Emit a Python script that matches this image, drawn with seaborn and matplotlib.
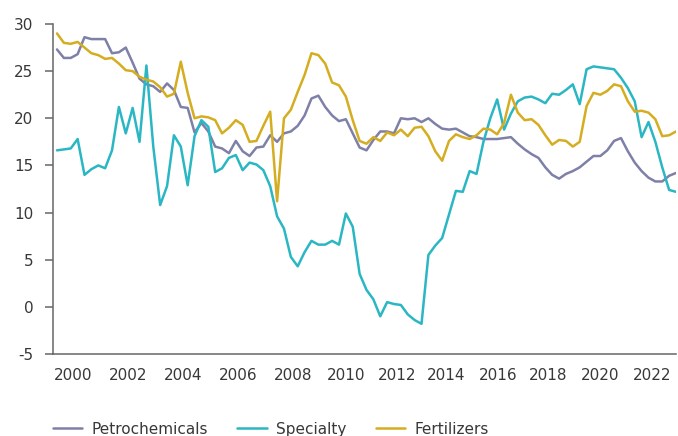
import pandas as pd
import matplotlib
matplotlib.use("Agg")
import matplotlib.pyplot as plt
import seaborn as sns

# Quarterly series (2000Q1 .. 2022Q3)
petrochemicals = [
    27.3, 26.4, 26.4, 26.8, 28.6, 28.4, 28.4, 28.4, 26.9, 27.0,
    27.5, 25.9, 24.2, 23.6, 23.4, 22.8, 23.7, 23.0, 21.2, 21.1,
    18.5, 19.5, 18.6, 17.0, 16.8, 16.3, 17.6, 16.5, 16.0, 16.9,
    17.0, 18.2, 17.5, 18.4, 18.6, 19.2, 20.3, 22.1, 22.4, 21.2,
    20.3, 19.7, 19.9, 18.4, 16.9, 16.6, 17.7, 18.6, 18.6, 18.4,
    20.0, 19.9, 20.0, 19.6, 20.0, 19.4, 18.9, 18.8, 18.9, 18.5,
    18.1, 18.0, 17.8, 17.8, 17.8, 17.9, 18.0, 17.3, 16.7, 16.2,
    15.8, 14.8, 14.0, 13.6, 14.1, 14.4, 14.8, 15.4, 16.0, 16.0,
    16.6, 17.6, 17.9, 16.5, 15.3, 14.4, 13.7, 13.3, 13.3, 13.9,
    14.2,
]
specialty = [
    16.6, 16.7, 16.8, 17.8, 14.0, 14.6, 15.0, 14.7, 16.6, 21.2,
    18.4, 21.1, 17.5, 25.6, 17.0, 10.8, 12.8, 18.2, 17.0, 12.9,
    18.1, 19.8, 19.1, 14.3, 14.7, 15.8, 16.1, 14.5, 15.3, 15.1,
    14.5, 12.8, 9.6, 8.3, 5.3, 4.3, 5.8, 7.0, 6.6, 6.6,
    7.0, 6.6, 9.9, 8.5, 3.5, 1.8, 0.8, -1.0, 0.5, 0.3,
    0.2, -0.8, -1.4, -1.8, 5.5, 6.5, 7.3, 9.8, 12.3, 12.2,
    14.4, 14.1, 17.5, 20.0, 22.0, 18.8, 20.5, 21.8, 22.2, 22.3,
    22.0, 21.6, 22.6, 22.5, 23.0, 23.6, 21.5, 25.2, 25.5, 25.4,
    25.3, 25.2, 24.3, 23.2, 21.8, 18.0, 19.6, 17.5, 14.8, 12.4,
    12.2,
]
fertilizers = [
    29.0, 28.0, 27.9, 28.1, 27.5, 26.9, 26.7, 26.3, 26.4, 25.8,
    25.1, 25.0, 24.4, 24.1, 23.9, 23.3, 22.3, 22.6, 26.0, 22.7,
    20.0, 20.2, 20.1, 19.8, 18.4, 19.0, 19.8, 19.3, 17.5, 17.6,
    19.2, 20.7, 11.2, 20.0, 20.9, 22.8, 24.6, 26.9, 26.7, 25.8,
    23.8, 23.5, 22.3, 19.8, 17.6, 17.3, 18.0, 17.6, 18.5, 18.2,
    18.8, 18.1, 19.0, 19.1, 18.1, 16.5, 15.5, 17.6, 18.3, 18.0,
    17.8, 18.2, 18.9, 18.8, 18.3, 19.5, 22.5, 20.6, 19.8, 19.9,
    19.3, 18.2, 17.2, 17.7, 17.6, 17.0, 17.5, 21.3, 22.7, 22.5,
    22.9, 23.6, 23.4, 21.8, 20.7, 20.8, 20.6, 19.9, 18.1, 18.2,
    18.6,
]
series_names = ["Petrochemicals", "Specialty", "Fertilizers"]
year_labels = ["2000", "2002", "2004", "2006", "2008", "2010",
               "2012", "2014", "2016", "2018", "2020", "2022"]

# layout: where each year label sits, in quarter-index units
year_label_pos = [2.3, 10.3, 18.3, 26.4, 34.4, 42.1,
                  49.4, 56.6, 64.1, 71.4, 78.9, 86.6]
colors = ["#7f80a8", "#2ab7c3", "#d5ad20"]

# long format for seaborn
frames = []
for name, vals in zip(series_names, [petrochemicals, specialty, fertilizers]):
    frames.append(pd.DataFrame({"quarter": range(len(vals)), "value": vals, "series": name}))
df = pd.concat(frames, ignore_index=True)

sns.set_theme(style="white")
plt.rcParams.update({"font.family": ["DejaVu Sans"], "font.size": 11,
                     "axes.unicode_minus": False,
                     "text.color": "#383838", "xtick.color": "#383838",
                     "ytick.color": "#383838"})

fig = plt.figure(figsize=(6.78, 4.36), dpi=100)
ax = fig.add_axes([53 / 678, 1 - 354 / 436, 623 / 678, 330 / 436])

sns.lineplot(data=df, x="quarter", y="value", hue="series", hue_order=series_names,
             palette=colors, linewidth=1.8, ax=ax, legend=False)

ax.set_xlim(-0.58, 90)
ax.set_ylim(-5, 30)
ax.set_yticks(range(-5, 31, 5))
ax.set_xticks(year_label_pos)
ax.set_xticklabels(year_labels)
ax.set_xlabel("")
ax.set_ylabel("")

sns.despine(ax=ax)
for side in ["left", "bottom"]:
    ax.spines[side].set_color("#666666")
    ax.spines[side].set_linewidth(1.1)
ax.tick_params(axis="y", length=6, width=1.1, color="#666666", pad=8, labelsize=11, left=True)
ax.tick_params(axis="x", length=0, pad=10, labelsize=11)

handles = [plt.Line2D([], [], color=c, linewidth=1.8) for c in colors]
fig.legend(handles, series_names, loc="center left", bbox_to_anchor=(53 / 678, 1 - 429 / 436),
           ncol=3, frameon=False, borderpad=0, borderaxespad=0, handlelength=1.9,
           handletextpad=0.65, columnspacing=1.9, fontsize=11)

fig.savefig("out.png", dpi=100)
